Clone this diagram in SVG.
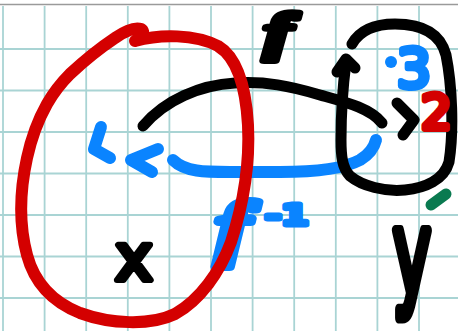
<svg xmlns="http://www.w3.org/2000/svg" width="458" height="331" viewBox="0 0 458 331">
<style>
.grid line{stroke:#a9d4d4;stroke-width:1.8}
.ink{fill:none;stroke-linecap:round;stroke-linejoin:round}
.k{stroke:#000}
.r{stroke:#d40000}
.b{stroke:#0a84ff}
.w11{stroke-width:11}
.w12{stroke-width:12}
.lbl{font-family:"DejaVu Sans",sans-serif;stroke-linejoin:round;stroke-width:6}
.fn{font-family:"Liberation Serif",serif;font-style:italic;font-weight:bold;stroke-linejoin:round;stroke-linecap:round}
</style>
<rect width="458" height="331" fill="#fff"/>
<g class="grid">
<line x1="0" y1="4.5" x2="458" y2="4.5" style="stroke:#9a9a9a;stroke-width:1.5"/>
<line x1="3" y1="6" x2="3" y2="331"/>
<line x1="44.6" y1="6" x2="44.6" y2="331"/>
<line x1="86.2" y1="6" x2="86.2" y2="331"/>
<line x1="127.8" y1="6" x2="127.8" y2="331"/>
<line x1="169.4" y1="6" x2="169.4" y2="331"/>
<line x1="211" y1="6" x2="211" y2="331"/>
<line x1="252.6" y1="6" x2="252.6" y2="331"/>
<line x1="294.2" y1="6" x2="294.2" y2="331"/>
<line x1="335.8" y1="6" x2="335.8" y2="331"/>
<line x1="377.4" y1="6" x2="377.4" y2="331"/>
<line x1="419" y1="6" x2="419" y2="331"/>
<line x1="0" y1="49" x2="458" y2="49"/>
<line x1="0" y1="90.5" x2="458" y2="90.5"/>
<line x1="0" y1="132" x2="458" y2="132"/>
<line x1="0" y1="173.5" x2="458" y2="173.5"/>
<line x1="0" y1="215" x2="458" y2="215"/>
<line x1="0" y1="256.5" x2="458" y2="256.5"/>
<line x1="0" y1="298" x2="458" y2="298"/>
</g>
<g id="connectors">
<g id="arrow-f">
<path class="ink k w11" d="M143,126 C165,100 200,85 235,83 C265,81 290,86 320,95 C345,102 370,108 382,123"/>
<path class="ink k w11" d="M397,103 L414,120 L403,135"/>
<text class="fn" transform="translate(264,50) scale(1.6,1)" x="0" y="0" font-size="52" fill="#000" stroke="#000" stroke-width="6">f</text>
</g>
<g id="arrow-f-inverse">
<path class="ink b w12" d="M173,160 C185,172 205,172 230,172 L280,172 C320,172 345,168 360,160 C370,154 374,148 376,140"/>
<path class="ink b w12" d="M158,149 L131,160 L152,172"/>
<path class="ink b w12" d="M101,127 L94,149 L110,158"/>
<text class="fn" transform="translate(216,252) scale(1.4,1)" x="0" y="0" font-size="72" fill="#0a84ff" stroke="#0a84ff" stroke-width="8">f<tspan x="35" y="-27" font-size="28" font-style="normal" font-family="DejaVu Sans, sans-serif" stroke-width="5">-1</tspan></text>
</g>
</g>
<g id="set-x">
<path class="ink r w12" d="M135,41 C160,34 195,34 218,46 C238,58 246,90 248,125 C250,165 243,205 231,242 C220,272 200,300 175,314 C150,326 110,324 80,313 C55,303 35,285 27,255 C19,225 20,190 27,158 C32,135 38,120 47,104 C55,90 62,82 70,74 C85,60 100,48 115,38 C125,31 135,27 141,29 C146,32 142,38 135,41"/>
<text class="lbl" x="134" y="280" font-size="64" text-anchor="middle" fill="#000" stroke="#000">x</text>
</g>
<g id="set-y">
<path class="ink k w11" d="M352,44 C360,30 375,24 395,24 C420,24 440,32 446,55 C452,85 454,130 449,162 C444,180 425,188 405,190 C385,192 362,186 350,176 C342,168 341,155 341,140 C341,110 343,85 346,62"/>
<path class="ink k w11" d="M337,72 L346,59 L355,68"/>
<circle cx="391" cy="62" r="6" fill="#0a84ff"/>
<text class="lbl" x="414" y="87" font-size="54" text-anchor="middle" fill="#0a84ff" stroke="#0a84ff">3</text>
<text class="lbl" x="421" y="129" font-size="48" fill="#d40000" stroke="#d40000">2</text>
<path class="ink w11" stroke="#0a7a50" d="M431,205 L446,194"/>
<text class="lbl" transform="translate(412,294) scale(1,1.8)" x="0" y="0" font-size="64" text-anchor="middle" fill="#000" stroke="#000">y</text>
</g>
</svg>
